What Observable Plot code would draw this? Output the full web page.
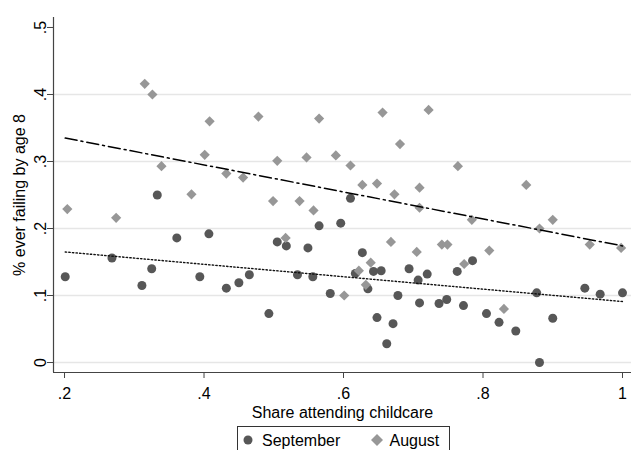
<!DOCTYPE html>
<html><head><meta charset="utf-8">
<script src="https://cdn.jsdelivr.net/npm/d3@7"></script>
<script src="https://cdn.jsdelivr.net/npm/@observablehq/plot@0.6"></script>
<style>
body{margin:0;background:#fff;font-family:"Liberation Sans",Arial,sans-serif;}
#wrap{position:relative;width:631px;height:450px;overflow:hidden;background:#fff;}
#wrap svg{display:block;}
#legend{position:absolute;left:0;top:422px;}
</style></head><body><div id="wrap"></div>
<script>
// September (circles)
const sepX = [0.201,0.268,0.311,0.325,0.333,0.361,0.394,0.407,0.432,0.450,0.465,0.493,0.505,0.518,0.534,0.549,0.556,0.565,0.581,0.596,0.610,0.617,0.627,0.635,0.643,0.654,0.648,0.662,0.671,0.678,0.694,0.707,0.709,0.720,0.737,0.748,0.763,0.772,0.785,0.805,0.823,0.847,0.877,0.881,0.900,0.946,0.968,1.000];
const sepY = [0.128,0.156,0.115,0.140,0.250,0.186,0.128,0.192,0.111,0.119,0.131,0.073,0.180,0.174,0.131,0.171,0.128,0.204,0.103,0.208,0.245,0.133,0.164,0.110,0.136,0.137,0.067,0.028,0.058,0.100,0.140,0.123,0.089,0.132,0.088,0.094,0.136,0.085,0.152,0.073,0.060,0.047,0.104,0.000,0.066,0.111,0.102,0.104];
// August (diamonds)
const augX = [0.204,0.274,0.315,0.326,0.339,0.382,0.401,0.408,0.432,0.456,0.478,0.499,0.505,0.517,0.537,0.547,0.557,0.565,0.589,0.601,0.610,0.622,0.627,0.632,0.639,0.648,0.656,0.668,0.673,0.681,0.705,0.709,0.709,0.722,0.741,0.749,0.764,0.773,0.784,0.809,0.830,0.862,0.881,0.900,0.953,0.998];
const augY = [0.229,0.216,0.416,0.400,0.293,0.251,0.310,0.360,0.282,0.276,0.367,0.241,0.301,0.186,0.241,0.306,0.227,0.364,0.309,0.100,0.294,0.137,0.265,0.116,0.149,0.267,0.373,0.180,0.251,0.326,0.165,0.261,0.231,0.377,0.176,0.176,0.293,0.147,0.213,0.167,0.080,0.265,0.200,0.213,0.176,0.171];
// fitted lines
const fitX = [0.201, 1.0];
const sepFit = [0.165, 0.091];
const augFit = [0.335, 0.174];
// axes
const xTicks = [0.2, 0.4, 0.6, 0.8, 1.0];
const xTickLabels = [".2", ".4", ".6", ".8", "1"];
const yTicks = [0, 0.1, 0.2, 0.3, 0.4, 0.5];
const yTickLabels = ["0", ".1", ".2", ".3", ".4", ".5"];
const gridValues = [0, 0.1, 0.2, 0.3, 0.4];
const xDomain = [0.1842, 1.0129];
const yDomain = [-0.0149, 0.5149];
const seriesNames = ["September", "August"];

const sep = sepX.map((x, i) => ({x, y: sepY[i]}));
const aug = augX.map((x, i) => ({x, y: augY[i]}));
const sepLine = fitX.map((x, i) => ({x, y: sepFit[i]}));
const augLine = fitX.map((x, i) => ({x, y: augFit[i]}));

const axisColor = "#444";
const plot = Plot.plot({
  width: 631, height: 425,
  marginTop: 17, marginLeft: 53, marginRight: 0, marginBottom: 53,
  style: {fontFamily: "'Liberation Sans', Arial, sans-serif", fontSize: "16px", color: "#000", background: "#fff", overflow: "visible"},
  x: {domain: xDomain, labelArrow: "none"},
  y: {domain: yDomain, labelArrow: "none"},
  marks: [
    Plot.ruleY(gridValues, {stroke: "#e6e6e6", strokeWidth: 1.5}),
    Plot.axisY({ticks: yTicks, tickFormat: d => yTickLabels[yTicks.indexOf(d)], tickRotate: -90, tickSize: 6, tickPadding: 2, stroke: axisColor, fill: "#000", fontSize: 16,
      label: "% ever failing by age 8", labelArrow: "none", labelAnchor: "center", labelOffset: 40}),
    Plot.axisX({ticks: xTicks, tickFormat: d => xTickLabels[xTicks.indexOf(d)], tickSize: 6, tickPadding: 9, stroke: axisColor, fill: "#000", fontSize: 16,
      label: "Share attending childcare", labelArrow: "none", labelAnchor: "center", labelOffset: 45}),
    Plot.ruleX([xDomain[0]], {stroke: axisColor, strokeWidth: 1.2}),
    Plot.ruleY([yDomain[0]], {stroke: axisColor, strokeWidth: 1.2}),
    Plot.dot(sep, {x: "x", y: "y", r: 4.5, fill: "#575757"}),
    Plot.dot(aug, {x: "x", y: "y", r: 4.6, symbol: "diamond2", fill: "#979797"}),
    Plot.line(augLine, {x: "x", y: "y", stroke: "#000", strokeWidth: 1.5, strokeDasharray: "12,4,2,4"}),
    Plot.line(sepLine, {x: "x", y: "y", stroke: "#111", strokeWidth: 1.4, strokeDasharray: "1.4,2.2"})
  ]
});
const wrap = document.getElementById("wrap");
wrap.appendChild(plot);

// legend below the plot
const ns = "http://www.w3.org/2000/svg";
const lg = document.createElementNS(ns, "svg");
lg.setAttribute("id", "legend");
lg.setAttribute("width", 631);
lg.setAttribute("height", 28);
lg.innerHTML = `
  <rect x="237.5" y="4.5" width="212" height="40" fill="#fff" stroke="#333" stroke-width="1"/>
  <circle cx="248" cy="18" r="4.5" fill="#575757"/>
  <text x="262" y="24" font-family="'Liberation Sans', Arial, sans-serif" font-size="16" fill="#000">${seriesNames[0]}</text>
  <path d="M377,12 L383,18 L377,24 L371,18 Z" fill="#979797"/>
  <text x="389.5" y="24" font-family="'Liberation Sans', Arial, sans-serif" font-size="16" fill="#000">${seriesNames[1]}</text>`;
wrap.appendChild(lg);
</script>
</body></html>
